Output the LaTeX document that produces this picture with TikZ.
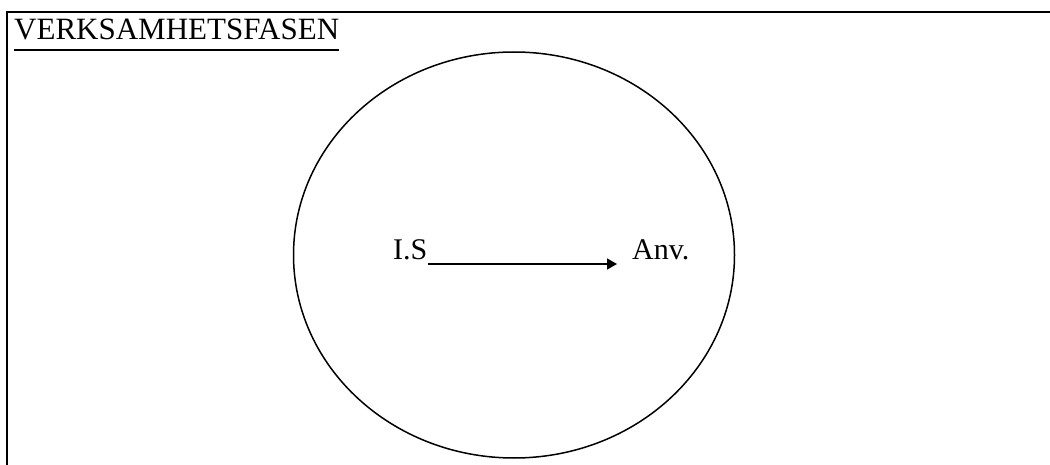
\documentclass[tikz,border=0pt]{standalone}
\usepackage{fontspec}
\setmainfont{Liberation Serif}
\usepackage{tikz}
\usetikzlibrary{shapes.geometric, arrows.meta, positioning}
\tikzset{
  frame/.style={line width=2pt},
  phase/.style={
    ellipse, draw, line width=1.5pt,
    minimum width=441pt, minimum height=406pt,
  },
  txt/.style={inner sep=0pt, font=\fontsize{30}{36}\selectfont},
  arrow/.style={-{Triangle[length=10pt,width=11pt]}, line width=1.5pt},
}

\begin{document}
\begin{tikzpicture}[x=1pt,y=-1pt]
  \useasboundingbox (0,0) rectangle (1050,465);
  \draw[frame] (1050,12) -| (7,465);
  \node[txt,anchor=base west,font=\fontsize{31}{36}\selectfont] (title) at (14,40) {VERKSAMHETSFASEN};
  \draw[line width=2pt] ([yshift=-10pt]title.base west)--([yshift=-10pt]title.base east);
  \node[phase] (phase) at (514,255) {};
  \node[txt,anchor=base west] (is) at (393,260) {I.S};
  \node[txt,anchor=base west] (anv) at (632,260) {Anv.};
  \draw[arrow] ([yshift=-4pt]is.base east)--([xshift=-15pt,yshift=-4pt]anv.base west);
\end{tikzpicture}
\end{document}
